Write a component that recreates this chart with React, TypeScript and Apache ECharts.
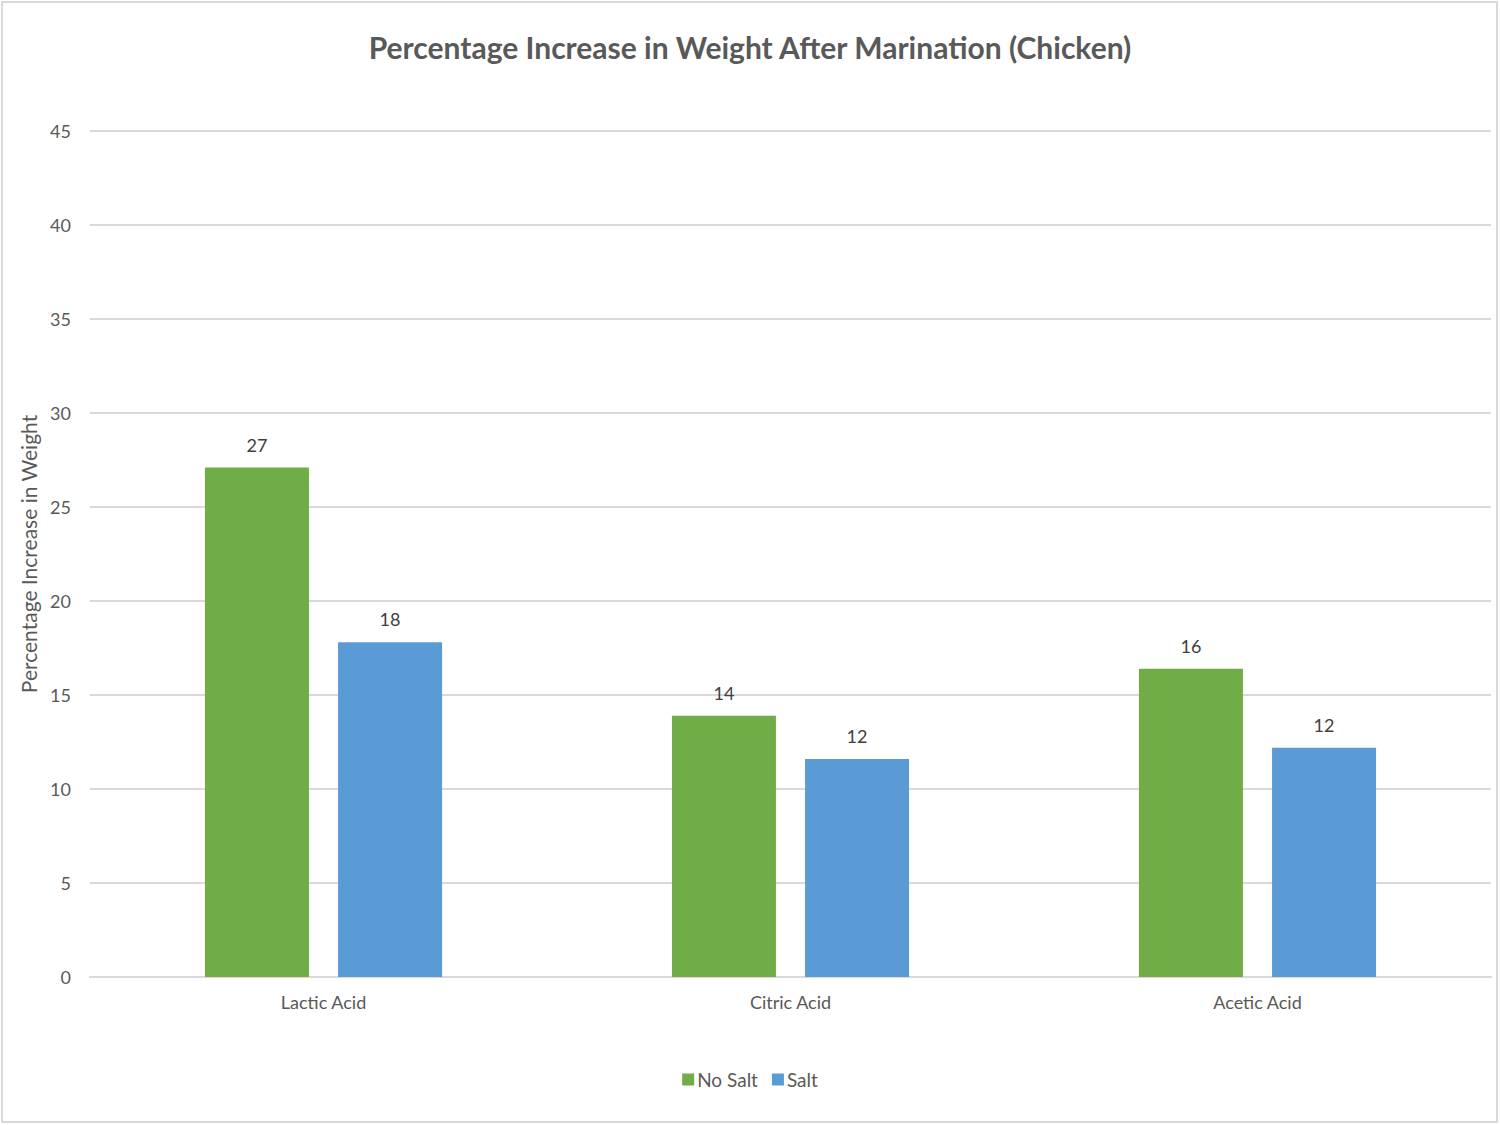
import { useEffect, useRef } from 'react'
import * as echarts from 'echarts'

const categories = ['Lactic Acid', 'Citric Acid', 'Acetic Acid']
const noSalt = [27.1, 13.9, 16.4]
const salt = [17.8, 11.6, 12.2]

const FONT = 'Lato, "Open Sans", sans-serif'
const TEXT = '#595959'

export default function App() {
  const chartRef = useRef<HTMLDivElement>(null)

  useEffect(() => {
    if (!chartRef.current) return
    document.body.style.margin = '0'
    const chart = echarts.init(chartRef.current, null, { renderer: 'svg' })

    const labelStyle = {
      show: true,
      position: 'top' as const,
      distance: 14,
      color: '#404040',
      fontSize: 18,
      fontFamily: FONT,
      formatter: (p: any) => Math.round(p.value).toString(),
    }

    chart.setOption({
      animation: false,
      backgroundColor: '#fff',
      title: {
        text: 'Percentage Increase in Weight After Marination (Chicken)',
        left: 'center',
        top: 27,
        textStyle: { color: TEXT, fontSize: 30, fontWeight: 'bold', fontFamily: FONT },
      },
      grid: { left: 90, right: 9, top: 131, bottom: 148 },
      legend: {
        bottom: 31,
        left: 'center',
        itemWidth: 12,
        itemHeight: 12,
        itemGap: 14,
        icon: 'rect',
        textStyle: { color: TEXT, fontSize: 19, fontFamily: FONT, padding: [0, 0, 0, -2] },
        data: ['No Salt', 'Salt'],
      },
      xAxis: {
        type: 'category',
        data: categories,
        axisLine: { lineStyle: { color: '#d9d9d9', width: 2 } },
        axisTick: { show: false },
        axisLabel: { color: TEXT, fontSize: 18, fontFamily: FONT, margin: 16 },
      },
      yAxis: {
        type: 'value',
        min: 0,
        max: 45,
        interval: 5,
        name: 'Percentage Increase in Weight',
        nameLocation: 'middle',
        nameGap: 50,
        nameTextStyle: { color: TEXT, fontSize: 21, fontFamily: FONT },
        axisLine: { show: false },
        axisTick: { show: false },
        axisLabel: { color: TEXT, fontSize: 18, fontFamily: FONT, margin: 19 },
        splitLine: { lineStyle: { color: '#d9d9d9', width: 2 } },
      },
      series: [
        {
          name: 'No Salt',
          type: 'bar',
          data: noSalt,
          barWidth: 104,
          barGap: '28%',
          itemStyle: { color: '#70AD47' },
          label: labelStyle,
        },
        {
          name: 'Salt',
          type: 'bar',
          data: salt,
          barWidth: 104,
          itemStyle: { color: '#5B9BD5' },
          label: labelStyle,
        },
      ],
      graphic: [
        {
          type: 'rect',
          shape: { x: 2, y: 2, width: 1495, height: 1120 },
          style: { fill: 'none', stroke: '#d9d9d9', lineWidth: 2 },
          silent: true,
        },
      ],
    })

    return () => chart.dispose()
  }, [])

  return <div ref={chartRef} style={{ position: 'absolute', left: 0, top: 0, width: 1500, height: 1125 }} />
}
